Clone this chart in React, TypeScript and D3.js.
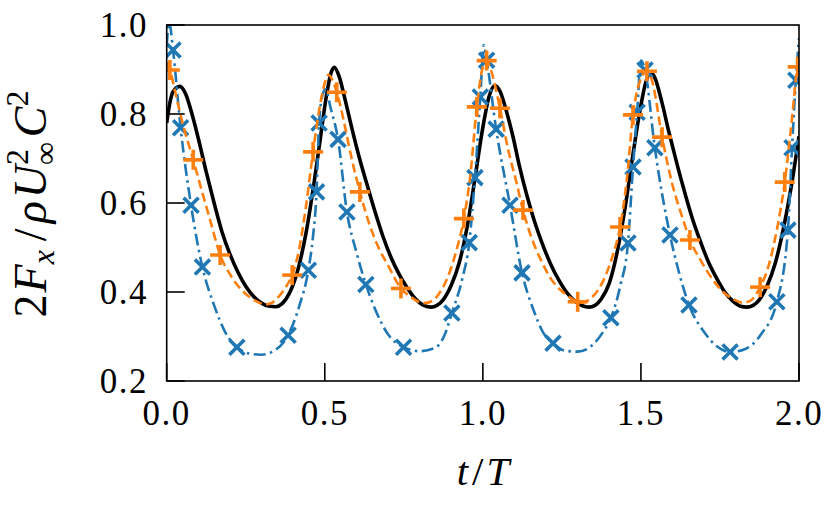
import React from "react";
import * as d3 from "d3";

const xTicks = [0, 0.5, 1.0, 1.5, 2.0];
const yTicks = [0.2, 0.4, 0.6, 0.8, 1.0];

const blackT = [0.0, 0.01, 0.02, 0.042, 0.06, 0.08, 0.1, 0.125, 0.15, 0.175, 0.2, 0.225, 0.25, 0.275, 0.3, 0.325, 0.345, 0.365, 0.39, 0.415, 0.44, 0.465, 0.485, 0.505, 0.52, 0.53, 0.545, 0.565, 0.585, 0.61, 0.635, 0.66, 0.685, 0.71, 0.735, 0.76, 0.785, 0.81, 0.835, 0.855, 0.875, 0.9, 0.925, 0.95, 0.975, 1.0, 1.02, 1.038, 1.055, 1.075, 1.095, 1.115, 1.14, 1.165, 1.19, 1.215, 1.24, 1.265, 1.29, 1.315, 1.335, 1.355, 1.375, 1.4, 1.425, 1.45, 1.475, 1.5, 1.515, 1.53, 1.545, 1.565, 1.59, 1.615, 1.64, 1.665, 1.69, 1.715, 1.74, 1.765, 1.79, 1.815, 1.835, 1.855, 1.875, 1.9, 1.925, 1.95, 1.975, 2.0];
const blackY = [0.78, 0.825, 0.85, 0.862, 0.845, 0.8, 0.745, 0.67, 0.6, 0.535, 0.485, 0.445, 0.413, 0.39, 0.375, 0.368, 0.367, 0.374, 0.4, 0.45, 0.53, 0.64, 0.74, 0.84, 0.893, 0.905, 0.885, 0.83, 0.77, 0.7, 0.638, 0.578, 0.523, 0.477, 0.44, 0.41, 0.386, 0.371, 0.366, 0.37, 0.383, 0.415, 0.465, 0.545, 0.655, 0.77, 0.84, 0.864, 0.85, 0.805, 0.75, 0.685, 0.615, 0.555, 0.505, 0.462, 0.427, 0.399, 0.38, 0.369, 0.366, 0.37, 0.385, 0.42, 0.49, 0.59, 0.71, 0.82, 0.87, 0.893, 0.88, 0.83, 0.755, 0.685, 0.62, 0.56, 0.51, 0.465, 0.43, 0.4, 0.38, 0.368, 0.366, 0.37, 0.383, 0.415, 0.465, 0.54, 0.635, 0.75];

const orangeT = [0.0, 0.01, 0.03, 0.05, 0.084, 0.11, 0.14, 0.169, 0.2, 0.23, 0.26, 0.29, 0.31, 0.33, 0.355, 0.38, 0.397, 0.42, 0.44, 0.463, 0.485, 0.5, 0.512, 0.525, 0.538, 0.56, 0.585, 0.611, 0.64, 0.67, 0.7, 0.741, 0.77, 0.8, 0.815, 0.84, 0.865, 0.89, 0.915, 0.94, 0.96, 0.981, 0.998, 1.012, 1.025, 1.054, 1.08, 1.105, 1.127, 1.155, 1.185, 1.215, 1.245, 1.275, 1.3, 1.315, 1.34, 1.365, 1.39, 1.41, 1.434, 1.455, 1.475, 1.495, 1.519, 1.535, 1.567, 1.6, 1.63, 1.655, 1.69, 1.725, 1.76, 1.795, 1.82, 1.845, 1.877, 1.9, 1.93, 1.955, 1.975, 1.996, 2.0];
const orangeY = [0.915, 0.899, 0.84, 0.78, 0.697, 0.63, 0.555, 0.483, 0.44, 0.41, 0.39, 0.377, 0.372, 0.375, 0.39, 0.415, 0.438, 0.5, 0.59, 0.715, 0.82, 0.87, 0.888, 0.875, 0.849, 0.785, 0.7, 0.625, 0.555, 0.5, 0.46, 0.408, 0.39, 0.377, 0.375, 0.38, 0.4, 0.435, 0.49, 0.565, 0.66, 0.816, 0.9, 0.92, 0.9, 0.813, 0.72, 0.65, 0.584, 0.52, 0.47, 0.43, 0.405, 0.388, 0.378, 0.376, 0.385, 0.405, 0.44, 0.48, 0.546, 0.65, 0.798, 0.87, 0.896, 0.875, 0.748, 0.64, 0.57, 0.517, 0.47, 0.43, 0.4, 0.383, 0.376, 0.38, 0.411, 0.45, 0.54, 0.647, 0.77, 0.906, 0.915];

const orangeMarkT = [0.01, 0.084, 0.169, 0.397, 0.463, 0.538, 0.611, 0.741, 0.94, 0.981, 1.012, 1.054, 1.127, 1.3, 1.434, 1.475, 1.519, 1.567, 1.655, 1.877, 1.955, 1.996];
const orangeMarkY = [0.899, 0.697, 0.483, 0.438, 0.715, 0.849, 0.625, 0.408, 0.565, 0.816, 0.92, 0.813, 0.584, 0.378, 0.546, 0.798, 0.896, 0.748, 0.517, 0.411, 0.647, 0.906];

const blueT = [0.0, 0.008, 0.02, 0.044, 0.077, 0.113, 0.15, 0.185, 0.222, 0.26, 0.3, 0.34, 0.384, 0.42, 0.448, 0.462, 0.474, 0.482, 0.494, 0.503, 0.518, 0.542, 0.57, 0.6, 0.63, 0.66, 0.7, 0.749, 0.8, 0.85, 0.88, 0.902, 0.935, 0.957, 0.975, 0.992, 1.003, 1.012, 1.042, 1.086, 1.124, 1.16, 1.19, 1.222, 1.26, 1.3, 1.345, 1.38, 1.405, 1.435, 1.459, 1.475, 1.488, 1.5, 1.513, 1.544, 1.592, 1.62, 1.652, 1.7, 1.74, 1.782, 1.83, 1.88, 1.93, 1.965, 1.978, 1.99, 2.0];
const blueY = [0.955, 1.005, 0.944, 0.769, 0.595, 0.456, 0.37, 0.31, 0.276, 0.262, 0.259, 0.268, 0.303, 0.37, 0.449, 0.52, 0.625, 0.78, 0.845, 0.856, 0.815, 0.743, 0.58, 0.49, 0.417, 0.36, 0.305, 0.276, 0.267, 0.275, 0.305, 0.353, 0.43, 0.511, 0.657, 0.838, 0.955, 0.921, 0.766, 0.595, 0.443, 0.36, 0.31, 0.285, 0.268, 0.266, 0.28, 0.31, 0.342, 0.415, 0.51, 0.681, 0.804, 0.92, 0.899, 0.724, 0.528, 0.445, 0.371, 0.31, 0.278, 0.265, 0.272, 0.305, 0.378, 0.539, 0.724, 0.876, 0.97];

const blueMarkT = [0.02, 0.044, 0.077, 0.113, 0.222, 0.384, 0.448, 0.474, 0.482, 0.542, 0.57, 0.63, 0.749, 0.902, 0.957, 0.975, 0.992, 1.012, 1.042, 1.086, 1.124, 1.222, 1.405, 1.459, 1.475, 1.488, 1.513, 1.544, 1.592, 1.652, 1.782, 1.93, 1.965, 1.978, 1.99];
const blueMarkY = [0.944, 0.769, 0.595, 0.456, 0.276, 0.303, 0.449, 0.625, 0.78, 0.743, 0.58, 0.417, 0.276, 0.353, 0.511, 0.657, 0.838, 0.921, 0.766, 0.595, 0.443, 0.285, 0.342, 0.51, 0.681, 0.804, 0.899, 0.724, 0.528, 0.371, 0.265, 0.378, 0.539, 0.724, 0.876];

const W = 833;
const H = 515;
const L = 166.7;
const R = 799;
const TOP = 25;
const BOT = 381;

const BLUE = "#1f77b4";
const ORANGE = "#ff7f0e";
const FONT = "'Liberation Serif', 'Times New Roman', serif";

export default function App() {
  const x = d3.scaleLinear().domain([0, 2]).range([L, R]);
  const y = d3.scaleLinear().domain([0.2, 1.0]).range([BOT, TOP]);

  const line = d3
    .line<[number, number]>()
    .x((d) => x(d[0]))
    .y((d) => y(d[1]))
    .curve(d3.curveMonotoneX);

  const zip = (a: number[], b: number[]) => a.map((v, i) => [v, b[i]] as [number, number]);

  const blackPath = line(zip(blackT, blackY)) || "";
  const orangePath = line(zip(orangeT, orangeY)) || "";
  const bluePath = line(zip(blueT, blueY)) || "";

  const xs = 7.5;
  const ps = 10;

  return (
    <svg
      width={W}
      height={H}
      viewBox={`0 0 ${W} ${H}`}
      style={{ position: "absolute", left: 0, top: 0, background: "#fff" }}
    >
      <defs>
        <clipPath id="plotclip">
          <rect x={L} y={TOP} width={R - L} height={BOT - TOP} />
        </clipPath>
      </defs>
      <rect x={0} y={0} width={W} height={H} fill="#fff" />
      <g clipPath="url(#plotclip)">
        <path d={blackPath} fill="none" stroke="#000" strokeWidth={3.6} strokeLinejoin="round" />
        <path
          d={bluePath}
          fill="none"
          stroke={BLUE}
          strokeWidth={2.6}
          strokeDasharray="12 4.5 2.5 4.5"
        />
        {blueMarkT.map((t, i) => {
          const cx = x(t);
          const cy = y(blueMarkY[i]);
          return (
            <g key={"b" + i} stroke={BLUE} strokeWidth={3.6}>
              <line x1={cx - xs} y1={cy - xs} x2={cx + xs} y2={cy + xs} />
              <line x1={cx - xs} y1={cy + xs} x2={cx + xs} y2={cy - xs} />
            </g>
          );
        })}
        <path
          d={orangePath}
          fill="none"
          stroke={ORANGE}
          strokeWidth={2.6}
          strokeDasharray="9 4.5"
        />
        {orangeMarkT.map((t, i) => {
          const cx = x(t);
          const cy = y(orangeMarkY[i]);
          return (
            <g key={"o" + i} stroke={ORANGE} strokeWidth={3.6}>
              <line x1={cx - ps} y1={cy} x2={cx + ps} y2={cy} />
              <line x1={cx} y1={cy - ps} x2={cx} y2={cy + ps} />
            </g>
          );
        })}
      </g>

      {/* frame */}
      <rect x={L} y={TOP} width={R - L} height={BOT - TOP} fill="none" stroke="#000" strokeWidth={1.6} />

      {/* ticks */}
      {xTicks.map((t) => (
        <g key={"xt" + t}>
          <line x1={x(t)} x2={x(t)} y1={BOT} y2={BOT - 18} stroke="#000" strokeWidth={1.6} />
          <text
            x={x(t)}
            y={425}
            textAnchor="middle"
            fontFamily={FONT}
            fontSize={35}
            letterSpacing={1.5}
          >
            {t.toFixed(1)}
          </text>
        </g>
      ))}
      {yTicks.map((t) => (
        <g key={"yt" + t}>
          <line x1={L} x2={L + 18} y1={y(t)} y2={y(t)} stroke="#000" strokeWidth={1.6} />
          <text
            x={148}
            y={y(t) + 12}
            textAnchor="end"
            fontFamily={FONT}
            fontSize={35}
            letterSpacing={1.5}
          >
            {t.toFixed(1)}
          </text>
        </g>
      ))}

      {/* x label */}
      <text x={483} y={485} textAnchor="middle" fontFamily={FONT} fontSize={41}>
        <tspan fontStyle="italic">t</tspan>
        <tspan dx={4}>/</tspan>
        <tspan fontStyle="italic" dx={3}>T</tspan>
      </text>

      {/* y label */}
      <text
        transform="translate(46,204) rotate(-90)"
        textAnchor="middle"
        fontFamily={FONT}
        fontSize={46}
      >
        <tspan>2</tspan>
        <tspan fontStyle="italic" dx={2}>F</tspan>
        <tspan fontStyle="italic" fontSize={32} dy={8}>x</tspan>
        <tspan dy={-8} dx={9}>/</tspan>
        <tspan fontStyle="italic" dx={5}>ρ</tspan>
        <tspan fontStyle="italic" dx={3}>U</tspan>
        <tspan fontSize={32} dy={-18}>2</tspan>
        <tspan fontSize={32} dx={-16} dy={28}>∞</tspan>
        <tspan fontStyle="italic" dy={-10} dx={5}>C</tspan>
        <tspan fontSize={32} dy={-18}>2</tspan>
      </text>
    </svg>
  );
}
